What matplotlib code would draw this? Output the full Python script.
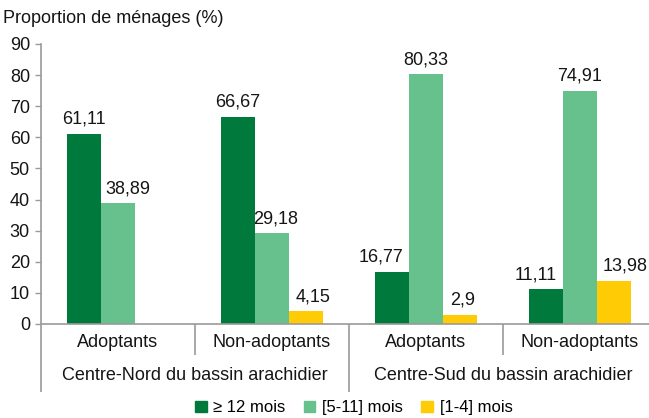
import matplotlib.pyplot as plt
import numpy as np
from matplotlib.patches import Patch

plt.rcParams['font.family'] = ['Liberation Sans', 'DejaVu Sans']

# sub-groups on the x axis and the two regions they belong to
categories = ['Adoptants', 'Non-adoptants', 'Adoptants', 'Non-adoptants']
regions = ['Centre-Nord du bassin arachidier', 'Centre-Sud du bassin arachidier']

# share of households (%) by duration class
series_names = ['≥ 12 mois', '[5-11] mois', '[1-4] mois']
plus_12 = [61.11, 66.67, 16.77, 11.11]
from_5_to_11 = [38.89, 29.18, 80.33, 74.91]
from_1_to_4 = [None, 4.15, 2.9, 13.98]

colors = ['#007a3c', '#66c18c', '#ffcb05']
grey = '#9a9a9a'
ink = '#151515'

# horizontal nudges (pixels) so neighbouring value labels don't collide
nudges = [[0, 0, -11, -10], [10, 4, 0, 0], [0, 7, 3, 11]]


def fmt(v):
    s = f'{v:.2f}'.rstrip('0').rstrip('.')
    return s.replace('.', ',')


fig = plt.figure(figsize=(6.49, 4.18), dpi=100)
ax = fig.add_axes([41 / 649, 94 / 418, 608 / 649, 280 / 418])

x = np.arange(len(categories))
w = 0.22
for i, (vals, col) in enumerate(zip([plus_12, from_5_to_11, from_1_to_4], colors)):
    for xi, v, dx in zip(x, vals, nudges[i]):
        if v is None:
            continue
        pos = xi + (i - 1) * w
        ax.bar(pos, v, width=w, color=col, linewidth=0)
        ax.annotate(fmt(v), (pos, v), xytext=(dx, 6), textcoords='offset pixels',
                     ha='center', va='bottom', fontsize=13, color=ink)

ax.set_xlim(-0.5, 3.5 - 8 / 154)
ax.set_ylim(0, 90)
ax.set_yticks(range(0, 91, 10))
ax.tick_params(axis='y', length=4, width=1, color=grey, labelsize=13,
               labelcolor=ink, pad=4)
ax.set_xticks([])
for s in ['top', 'right']:
    ax.spines[s].set_visible(False)
ax.spines['left'].set_color(grey)
ax.spines['bottom'].set_color(grey)
ax.spines['left'].set_linewidth(1.2)
ax.spines['bottom'].set_linewidth(1.2)

# two-level category axis drawn below the plot
trans = ax.get_xaxis_transform()
for xi, lab in zip(x, categories):
    ax.text(xi, -0.065, lab, transform=trans, ha='center', va='center',
            fontsize=13, color=ink)
for j, reg in enumerate(regions):
    ax.text(2 * j + 0.5, -0.185, reg, transform=trans, ha='center', va='center',
            fontsize=13, color=ink)
for xb, depth in [(-0.5, -0.243), (0.5, -0.111), (1.5, -0.243), (2.5, -0.111)]:
    ax.plot([xb, xb], [0, depth], transform=trans, color=grey, lw=1.2,
            clip_on=False, solid_capstyle='butt')

fig.text(0.005, 0.955, 'Proportion de ménages (%)', fontsize=13, color=ink,
         ha='left', va='center')

handles = [Patch(color=c, label=n) for c, n in zip(colors, series_names)]
fig.legend(handles=handles, loc='center', bbox_to_anchor=(0.545, 0.024), ncol=3,
           frameon=False, fontsize=12, handlelength=0.7, handleheight=0.7,
           handletextpad=0.4, columnspacing=1.1)

fig.savefig('out.png', dpi=100)
